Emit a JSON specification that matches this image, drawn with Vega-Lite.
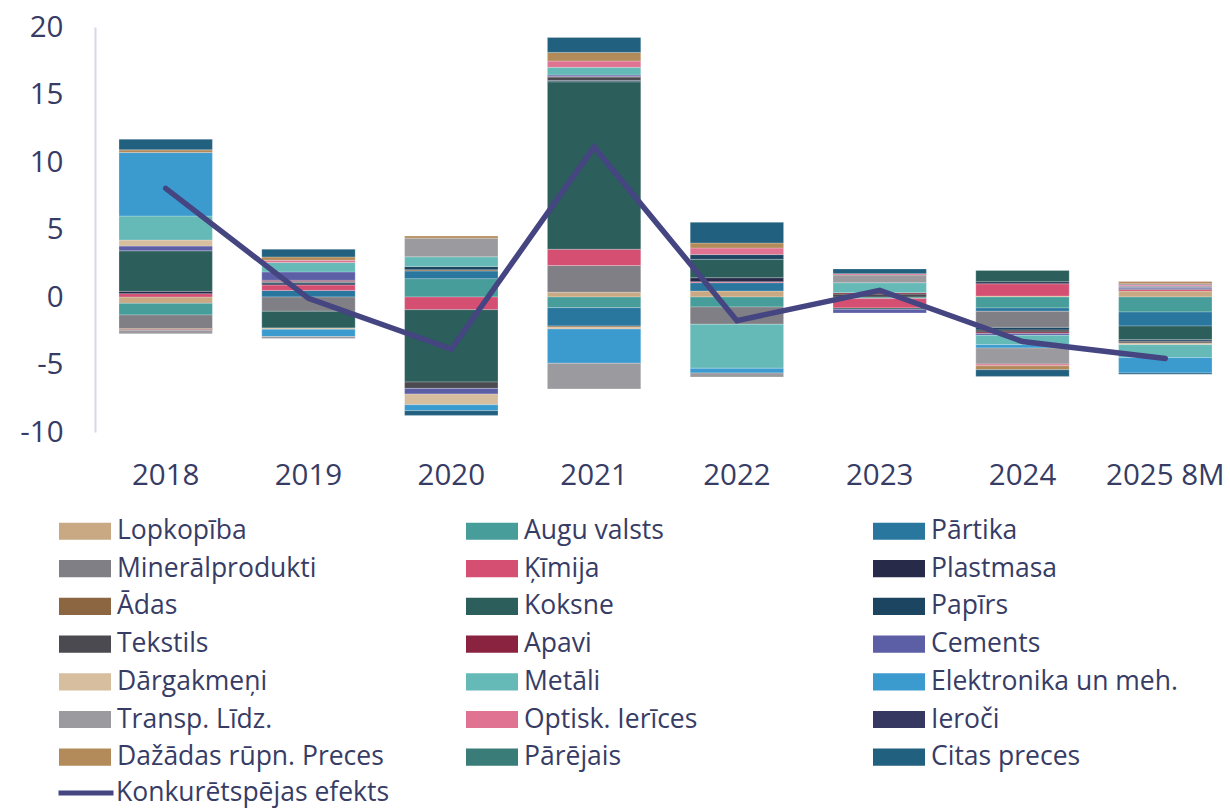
{
  "$schema": "https://vega.github.io/schema/vega-lite/v6.json",
  "width": 1135,
  "height": 405,
  "autosize": {"type": "none"},
  "padding": {"left": 95, "top": 27, "right": 0, "bottom": 376},
  "background": "#ffffff",
  "config": {
    "view": {"stroke": null},
    "font": "Open Sans",
    "axis": {"labelFont": "Open Sans", "labelFontSize": 29.5, "labelColor": "#373C65"},
    "legend": {"labelFont": "Open Sans", "labelFontSize": 26.5, "labelColor": "#373C65", "padding": 0}
  },
  "datasets": {
    "bars": [
      {"year": "2018", "cat": "Lopkopība", "n": 1, "v": -0.47},
      {"year": "2018", "cat": "Augu valsts", "n": 2, "v": -0.86},
      {"year": "2018", "cat": "Minerālprodukti", "n": 4, "v": -1.0},
      {"year": "2018", "cat": "Ķīmija", "n": 5, "v": 0.25},
      {"year": "2018", "cat": "Plastmasa", "n": 6, "v": 0.17},
      {"year": "2018", "cat": "Ādas", "n": 7, "v": -0.07},
      {"year": "2018", "cat": "Koksne", "n": 8, "v": 3.0},
      {"year": "2018", "cat": "Apavi", "n": 11, "v": -0.06},
      {"year": "2018", "cat": "Cements", "n": 12, "v": 0.35},
      {"year": "2018", "cat": "Dārgakmeņi", "n": 13, "v": 0.45},
      {"year": "2018", "cat": "Metāli", "n": 14, "v": 1.78},
      {"year": "2018", "cat": "Elektronika un meh.", "n": 15, "v": 4.7},
      {"year": "2018", "cat": "Transp. Līdz.", "n": 16, "v": -0.27},
      {"year": "2018", "cat": "Dažādas rūpn. Preces", "n": 19, "v": 0.2},
      {"year": "2018", "cat": "Citas preces", "n": 21, "v": 0.79},

      {"year": "2019", "cat": "Pārtika", "n": 3, "v": 0.49},
      {"year": "2019", "cat": "Minerālprodukti", "n": 4, "v": -1.06},
      {"year": "2019", "cat": "Ķīmija", "n": 5, "v": 0.4},
      {"year": "2019", "cat": "Plastmasa", "n": 6, "v": 0.08},
      {"year": "2019", "cat": "Koksne", "n": 8, "v": -1.23},
      {"year": "2019", "cat": "Papīrs", "n": 9, "v": 0.1},
      {"year": "2019", "cat": "Tekstils", "n": 10, "v": 0.07},
      {"year": "2019", "cat": "Apavi", "n": 11, "v": 0.1},
      {"year": "2019", "cat": "Cements", "n": 12, "v": 0.62},
      {"year": "2019", "cat": "Dārgakmeņi", "n": 13, "v": -0.1},
      {"year": "2019", "cat": "Metāli", "n": 14, "v": 0.69},
      {"year": "2019", "cat": "Elektronika un meh.", "n": 15, "v": -0.54},
      {"year": "2019", "cat": "Transp. Līdz.", "n": 16, "v": -0.15},
      {"year": "2019", "cat": "Optisk. Ierīces", "n": 17, "v": 0.17},
      {"year": "2019", "cat": "Dažādas rūpn. Preces", "n": 19, "v": 0.25},
      {"year": "2019", "cat": "Citas preces", "n": 21, "v": 0.57},

      {"year": "2020", "cat": "Augu valsts", "n": 2, "v": 1.36},
      {"year": "2020", "cat": "Pārtika", "n": 3, "v": 0.57},
      {"year": "2020", "cat": "Ķīmija", "n": 5, "v": -0.94},
      {"year": "2020", "cat": "Ādas", "n": 7, "v": 0.08},
      {"year": "2020", "cat": "Koksne", "n": 8, "v": -5.36},
      {"year": "2020", "cat": "Papīrs", "n": 9, "v": 0.25},
      {"year": "2020", "cat": "Tekstils", "n": 10, "v": -0.47},
      {"year": "2020", "cat": "Cements", "n": 12, "v": -0.42},
      {"year": "2020", "cat": "Dārgakmeņi", "n": 13, "v": -0.79},
      {"year": "2020", "cat": "Metāli", "n": 14, "v": 0.72},
      {"year": "2020", "cat": "Elektronika un meh.", "n": 15, "v": -0.44},
      {"year": "2020", "cat": "Transp. Līdz.", "n": 16, "v": 1.38},
      {"year": "2020", "cat": "Dažādas rūpn. Preces", "n": 19, "v": 0.15},
      {"year": "2020", "cat": "Citas preces", "n": 21, "v": -0.35},

      {"year": "2021", "cat": "Lopkopība", "n": 1, "v": 0.35},
      {"year": "2021", "cat": "Augu valsts", "n": 2, "v": -0.79},
      {"year": "2021", "cat": "Pārtika", "n": 3, "v": -1.36},
      {"year": "2021", "cat": "Minerālprodukti", "n": 4, "v": 1.98},
      {"year": "2021", "cat": "Ķīmija", "n": 5, "v": 1.21},
      {"year": "2021", "cat": "Ādas", "n": 7, "v": -0.08},
      {"year": "2021", "cat": "Koksne", "n": 8, "v": 12.4},
      {"year": "2021", "cat": "Papīrs", "n": 9, "v": 0.1},
      {"year": "2021", "cat": "Tekstils", "n": 10, "v": 0.25},
      {"year": "2021", "cat": "Apavi", "n": 11, "v": 0.05},
      {"year": "2021", "cat": "Cements", "n": 12, "v": 0.1},
      {"year": "2021", "cat": "Dārgakmeņi", "n": 13, "v": -0.14},
      {"year": "2021", "cat": "Metāli", "n": 14, "v": 0.57},
      {"year": "2021", "cat": "Elektronika un meh.", "n": 15, "v": -2.54},
      {"year": "2021", "cat": "Transp. Līdz.", "n": 16, "v": -1.9},
      {"year": "2021", "cat": "Optisk. Ierīces", "n": 17, "v": 0.47},
      {"year": "2021", "cat": "Dažādas rūpn. Preces", "n": 19, "v": 0.64},
      {"year": "2021", "cat": "Citas preces", "n": 21, "v": 1.11},

      {"year": "2022", "cat": "Lopkopība", "n": 1, "v": 0.44},
      {"year": "2022", "cat": "Augu valsts", "n": 2, "v": -0.74},
      {"year": "2022", "cat": "Pārtika", "n": 3, "v": 0.62},
      {"year": "2022", "cat": "Minerālprodukti", "n": 4, "v": -1.28},
      {"year": "2022", "cat": "Ķīmija", "n": 5, "v": 0.07},
      {"year": "2022", "cat": "Plastmasa", "n": 6, "v": 0.3},
      {"year": "2022", "cat": "Koksne", "n": 8, "v": 1.36},
      {"year": "2022", "cat": "Papīrs", "n": 9, "v": 0.35},
      {"year": "2022", "cat": "Metāli", "n": 14, "v": -3.26},
      {"year": "2022", "cat": "Elektronika un meh.", "n": 15, "v": -0.35},
      {"year": "2022", "cat": "Transp. Līdz.", "n": 16, "v": -0.3},
      {"year": "2022", "cat": "Optisk. Ierīces", "n": 17, "v": 0.49},
      {"year": "2022", "cat": "Dažādas rūpn. Preces", "n": 19, "v": 0.37},
      {"year": "2022", "cat": "Citas preces", "n": 21, "v": 1.53},

      {"year": "2023", "cat": "Augu valsts", "n": 2, "v": -0.12},
      {"year": "2023", "cat": "Ķīmija", "n": 5, "v": -0.69},
      {"year": "2023", "cat": "Koksne", "n": 8, "v": -0.1},
      {"year": "2023", "cat": "Tekstils", "n": 10, "v": 0.22},
      {"year": "2023", "cat": "Apavi", "n": 11, "v": 0.1},
      {"year": "2023", "cat": "Cements", "n": 12, "v": -0.27},
      {"year": "2023", "cat": "Metāli", "n": 14, "v": 0.74},
      {"year": "2023", "cat": "Transp. Līdz.", "n": 16, "v": 0.57},
      {"year": "2023", "cat": "Optisk. Ierīces", "n": 17, "v": 0.1},
      {"year": "2023", "cat": "Citas preces", "n": 21, "v": 0.35},

      {"year": "2024", "cat": "Lopkopība", "n": 1, "v": 0.07},
      {"year": "2024", "cat": "Augu valsts", "n": 2, "v": -0.81},
      {"year": "2024", "cat": "Pārtika", "n": 3, "v": -0.25},
      {"year": "2024", "cat": "Minerālprodukti", "n": 4, "v": -1.19},
      {"year": "2024", "cat": "Ķīmija", "n": 5, "v": 0.91},
      {"year": "2024", "cat": "Plastmasa", "n": 6, "v": 0.15},
      {"year": "2024", "cat": "Koksne", "n": 8, "v": 0.84},
      {"year": "2024", "cat": "Papīrs", "n": 9, "v": -0.2},
      {"year": "2024", "cat": "Tekstils", "n": 10, "v": -0.15},
      {"year": "2024", "cat": "Apavi", "n": 11, "v": -0.1},
      {"year": "2024", "cat": "Cements", "n": 12, "v": -0.14},
      {"year": "2024", "cat": "Metāli", "n": 14, "v": -0.69},
      {"year": "2024", "cat": "Elektronika un meh.", "n": 15, "v": -0.25},
      {"year": "2024", "cat": "Transp. Līdz.", "n": 16, "v": -1.19},
      {"year": "2024", "cat": "Optisk. Ierīces", "n": 17, "v": -0.12},
      {"year": "2024", "cat": "Dažādas rūpn. Preces", "n": 19, "v": -0.3},
      {"year": "2024", "cat": "Citas preces", "n": 21, "v": -0.49},

      {"year": "2025 8M", "cat": "Lopkopība", "n": 1, "v": 0.44},
      {"year": "2025 8M", "cat": "Augu valsts", "n": 2, "v": -1.11},
      {"year": "2025 8M", "cat": "Pārtika", "n": 3, "v": -1.04},
      {"year": "2025 8M", "cat": "Ķīmija", "n": 5, "v": 0.12},
      {"year": "2025 8M", "cat": "Plastmasa", "n": 6, "v": 0.05},
      {"year": "2025 8M", "cat": "Koksne", "n": 8, "v": -1.01},
      {"year": "2025 8M", "cat": "Papīrs", "n": 9, "v": -0.12},
      {"year": "2025 8M", "cat": "Tekstils", "n": 10, "v": -0.12},
      {"year": "2025 8M", "cat": "Cements", "n": 12, "v": 0.12},
      {"year": "2025 8M", "cat": "Dārgakmeņi", "n": 13, "v": -0.13},
      {"year": "2025 8M", "cat": "Metāli", "n": 14, "v": -0.96},
      {"year": "2025 8M", "cat": "Elektronika un meh.", "n": 15, "v": -1.14},
      {"year": "2025 8M", "cat": "Transp. Līdz.", "n": 16, "v": 0.1},
      {"year": "2025 8M", "cat": "Optisk. Ierīces", "n": 17, "v": 0.1},
      {"year": "2025 8M", "cat": "Ieroči", "n": 18, "v": 0.06},
      {"year": "2025 8M", "cat": "Dažādas rūpn. Preces", "n": 19, "v": 0.15},
      {"year": "2025 8M", "cat": "Citas preces", "n": 21, "v": -0.1}
    ],
    "line": [
      {"year": "2018", "v": 8.05},
      {"year": "2019", "v": -0.1},
      {"year": "2020", "v": -3.85},
      {"year": "2021", "v": 11.1},
      {"year": "2022", "v": -1.75},
      {"year": "2023", "v": 0.5},
      {"year": "2024", "v": -3.3},
      {"year": "2025 8M", "v": -4.55}
    ]
  },
  "encoding": {
    "x": {
      "field": "year",
      "type": "nominal",
      "sort": null,
      "scale": {"domain": ["2018", "2019", "2020", "2021", "2022", "2023", "2024", "2025 8M"], "range": [0, 1141], "paddingInner": 0.346, "paddingOuter": 0.168},
      "axis": {"title": null, "domain": false, "ticks": false, "labelAngle": 0, "labelPadding": 29}
    }
  },
  "layer": [
    {
      "data": {"name": "bars"},
      "mark": {"type": "bar", "stroke": "#ffffff", "strokeWidth": 0.4, "strokeOpacity": 0.6},
      "encoding": {
        "y": {
          "field": "v",
          "type": "quantitative",
          "stack": "zero",
          "scale": {"domain": [-10, 20], "nice": false, "zero": false},
          "axis": {"title": null, "values": [-10, -5, 0, 5, 10, 15, 20], "grid": false, "ticks": false, "labelPadding": 32, "domain": true, "domainColor": "#D5D7EB", "domainWidth": 2, "labelExpr": "replace(datum.label, '−', '-')"}
        },
        "order": {"field": "n", "type": "quantitative", "sort": "ascending"},
        "color": {
          "field": "cat",
          "type": "nominal",
          "scale": {
            "domain": ["Lopkopība", "Augu valsts", "Pārtika", "Minerālprodukti", "Ķīmija", "Plastmasa", "Ādas", "Koksne", "Papīrs", "Tekstils", "Apavi", "Cements", "Dārgakmeņi", "Metāli", "Elektronika un meh.", "Transp. Līdz.", "Optisk. Ierīces", "Ieroči", "Dažādas rūpn. Preces", "Pārējais", "Citas preces"],
            "range": ["#C8A983", "#479D9A", "#29779F", "#807F85", "#D44F72", "#282A4A", "#8B6641", "#2C5E5C", "#1B4560", "#4B4A50", "#8A2340", "#5C5EA6", "#D6BE9F", "#65BAB8", "#3B9BCF", "#9B9A9F", "#DF7391", "#363862", "#B38A5A", "#3A7D78", "#22607F"]
          },
          "legend": {
            "title": null,
            "orient": "none",
            "direction": "horizontal",
            "legendX": -36,
            "legendY": 492,
            "columns": 3,
            "gridAlign": "all",
            "columnPadding": 82,
            "rowPadding": 10.7,
            "clipHeight": 24,
            "symbolType": "M-1,-0.33H1V0.33H-1Z",
            "symbolSize": 2704,
            "symbolStrokeWidth": 0,
            "symbolOpacity": 1,
            "labelOffset": 6,
            "labelLimit": 400
          }
        }
      }
    },
    {
      "mark": {"type": "rule", "color": "#D8DAEC", "strokeWidth": 2},
      "encoding": {"x": null, "y": {"datum": 0, "type": "quantitative"}}
    },
    {
      "data": {"name": "line"},
      "mark": {"type": "line", "strokeWidth": 5.5, "strokeCap": "round", "strokeJoin": "miter"},
      "encoding": {
        "y": {"field": "v", "type": "quantitative"},
        "stroke": {
          "datum": "Konkurētspējas efekts",
          "scale": {"range": ["#454581"]},
          "legend": {
            "title": null,
            "orient": "none",
            "legendX": -39,
            "legendY": 754,
            "symbolType": "stroke",
            "symbolSize": 3025,
            "symbolStrokeWidth": 5,
            "labelOffset": 0,
            "labelLimit": 400,
            "clipHeight": 24
          }
        }
      }
    }
  ]
}
